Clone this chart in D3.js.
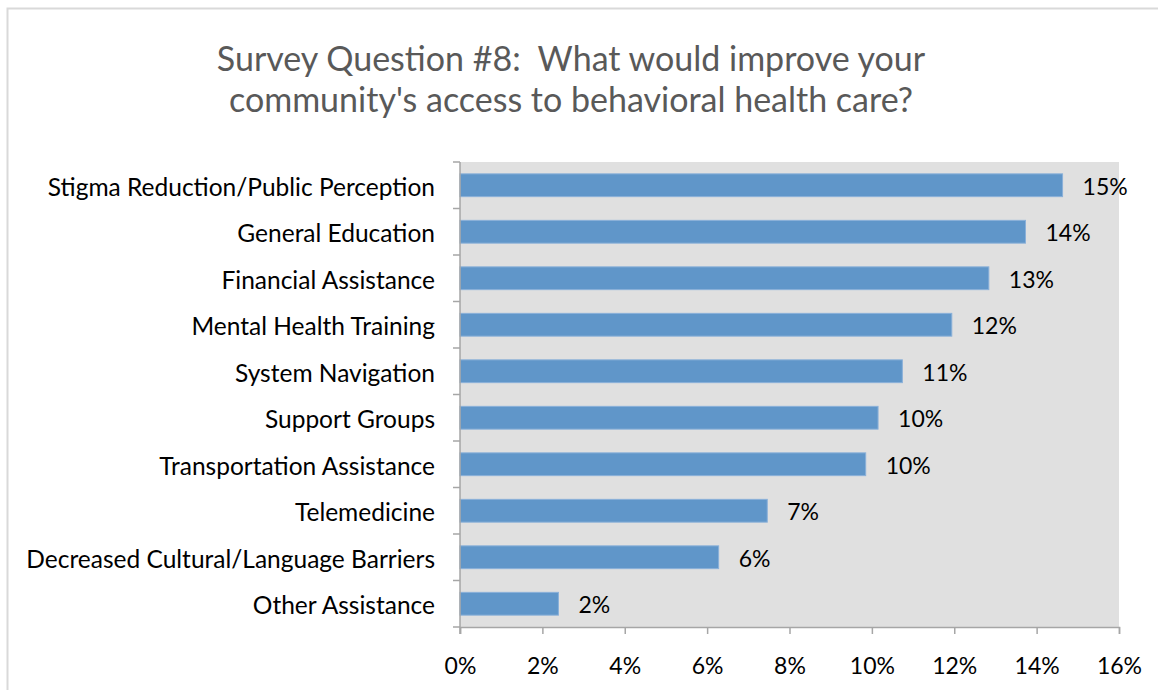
<!DOCTYPE html>
<html>
<head>
<meta charset="utf-8">
<script src="https://cdn.jsdelivr.net/npm/d3@7"></script>
<style>
  html, body { margin: 0; padding: 0; background: #fff; }
  svg { display: block; }
  text { font-family: Lato, "Noto Sans", sans-serif; white-space: pre; }
</style>
</head>
<body>
<svg id="chart" width="1158" height="690"></svg>
<script>
// Survey responses, top to bottom
const categories = [
  "Stigma Reduction/Public Perception",
  "General Education",
  "Financial Assistance",
  "Mental Health Training",
  "System Navigation",
  "Support Groups",
  "Transportation Assistance",
  "Telemedicine",
  "Decreased Cultural/Language Barriers",
  "Other Assistance"
];
const shares = [0.1463, 0.1373, 0.1284, 0.1194, 0.1074, 0.1015, 0.0985, 0.0746, 0.0628, 0.0239];
const xTicks = [0, 0.02, 0.04, 0.06, 0.08, 0.10, 0.12, 0.14, 0.16];
const titleLines = [
  "Survey Question #8:  What would improve your",
  "community's access to behavioral health care?"
];

const svg = d3.select("#chart");
const plot = { left: 460, right: 1119, top: 162, bottom: 627 };

// outer frame
svg.append("rect")
  .attr("x", 7.5).attr("y", 8.5)
  .attr("width", 1170).attr("height", 700)
  .attr("fill", "none").attr("stroke", "#D9D9D9").attr("stroke-width", 2);

// title
svg.append("g").selectAll("text").data(titleLines).join("text")
  .attr("x", 571).attr("y", (d, i) => 71 + i * 41)
  .attr("text-anchor", "middle")
  .attr("font-size", 34)
  .attr("fill", "#595959")
  .text(d => d);

const x = d3.scaleLinear().domain([0, 0.16]).range([plot.left, plot.right]);
const y = d3.scaleBand().domain(categories).range([plot.top, plot.bottom]).paddingInner(0.51).paddingOuter(0.255);

// plot background
svg.append("rect")
  .attr("x", plot.left).attr("y", plot.top)
  .attr("width", plot.right - plot.left).attr("height", plot.bottom - plot.top)
  .attr("fill", "#E0E0E0");

// bars
svg.append("g").selectAll("rect").data(shares).join("rect")
  .attr("x", x(0))
  .attr("y", (d, i) => y(categories[i]))
  .attr("width", d => x(d) - x(0))
  .attr("height", y.bandwidth())
  .attr("fill", "#6096C9")
  .attr("stroke", "#8AB0D9")
  .attr("stroke-width", 1);

// value labels
const fmt = d3.format(".0%");
svg.append("g").selectAll("text").data(shares).join("text")
  .attr("x", d => x(d) + 20)
  .attr("y", (d, i) => y(categories[i]) + y.bandwidth() / 2)
  .attr("dy", "0.42em")
  .attr("font-size", 23)
  .attr("fill", "#000")
  .text(d => fmt(d));

// category axis: line plus ticks at band boundaries
const yAxis = svg.append("g");
yAxis.append("line")
  .attr("x1", plot.left).attr("x2", plot.left)
  .attr("y1", plot.top).attr("y2", plot.bottom + 7)
  .attr("stroke", "#A6A6A6").attr("stroke-width", 1.5);
yAxis.selectAll("line.tick").data(d3.range(categories.length + 1)).join("line")
  .attr("class", "tick")
  .attr("x1", plot.left - 7).attr("x2", plot.left)
  .attr("y1", i => plot.top + i * (plot.bottom - plot.top) / categories.length)
  .attr("y2", i => plot.top + i * (plot.bottom - plot.top) / categories.length)
  .attr("stroke", "#A6A6A6").attr("stroke-width", 1.5);
yAxis.selectAll("text").data(categories).join("text")
  .attr("x", 435)
  .attr("y", d => y(d) + y.bandwidth() / 2)
  .attr("dy", "0.42em")
  .attr("text-anchor", "end")
  .attr("font-size", 24.5)
  .attr("fill", "#000")
  .text(d => d);

// value axis
const xAxis = svg.append("g")
  .attr("transform", `translate(0,${plot.bottom})`)
  .call(d3.axisBottom(x).tickValues(xTicks).tickFormat(d3.format(".0%")).tickSize(7).tickPadding(24));
xAxis.select(".domain").attr("stroke", "#A6A6A6").attr("stroke-width", 1.5);
xAxis.selectAll(".tick line").attr("stroke", "#A6A6A6").attr("stroke-width", 1.5);
xAxis.selectAll(".tick text")
  .attr("font-size", 23)
  .attr("font-family", "Lato, 'Noto Sans', sans-serif")
  .attr("fill", "#000");
</script>
</body>
</html>
